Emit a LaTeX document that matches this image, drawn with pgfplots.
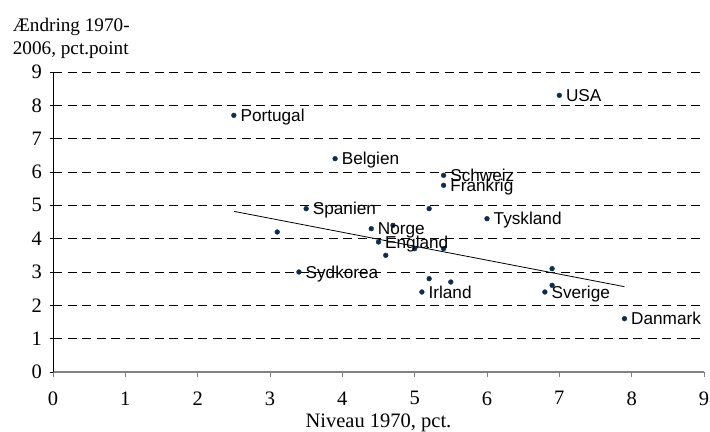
\documentclass[border=0pt]{standalone}
\usepackage{fontspec}
\setmainfont{Liberation Serif}
\setsansfont{Liberation Sans}
\usepackage{pgfplots}
\pgfplotsset{compat=1.18}
\definecolor{pt}{HTML}{0B2E50}
\definecolor{axgray}{HTML}{808080}
\begin{document}
\begin{tikzpicture}
\begin{axis}[
  scale only axis, width=651bp, height=300bp,
  xmin=0, xmax=9, ymin=0, ymax=9,
  xtick={0,1,...,9}, ytick={0,1,...,9},
  axis x line*=bottom, axis y line*=left,
  x axis line style={axgray, line width=1.6bp},
  y axis line style={black, line width=0.9bp},
  xtick style={axgray, line width=1bp},
  ytick style={black, line width=0.9bp},
  xtick align=outside, ytick align=center,
  major tick length=5bp,
  ymajorgrids,
  grid style={black, line width=0.7bp, dash pattern=on 9bp off 5.5bp},
  font=\fontsize{20.5bp}{24bp}\selectfont,
  /pgf/number format/assume math mode=true,
  ticklabel style={font=\fontsize{20.5bp}{24bp}\selectfont},
  xticklabel style={yshift=-11bp},
  yticklabel style={xshift=-5bp},
  xlabel={Niveau 1970, pct.},
  ylabel={Ændring 1970-\\2006, pct.point},
  every axis x label/.style={at={(axis description cs:0.5,0)}, anchor=base, yshift=-55bp},
  every axis y label/.style={at={(axis description cs:0,1)}, anchor=south west, align=left, inner sep=0pt, xshift=-40.3bp, yshift=13.5bp, font=\fontsize{19.2bp}{23bp}\selectfont},
  clip=false,
]
\addplot[black, line width=0.8bp] coordinates {(2.5,4.82) (7.9,2.56)};
\addplot[only marks, mark=*, mark size=2.4bp, mark options={fill=pt, draw=pt}] coordinates {
 (3.1,4.2) (4.7,4.4) (4.6,3.5) (5.0,3.7) (5.4,3.7) (5.2,4.9) (5.2,2.8) (5.5,2.7) (6.9,3.1) (6.9,2.6)
};
\addplot[only marks, mark=*, mark size=2.4bp, mark options={fill=pt, draw=pt},
  nodes near coords, point meta=explicit symbolic,
  nodes near coords style={anchor=base west, inner sep=0pt, xshift=6.5bp, yshift=-6.1bp, font=\sffamily\fontsize{17.2bp}{20bp}\selectfont, text=black}]
 table[meta=label] {
x y label
2.5 7.7 Portugal
3.9 6.4 Belgien
7.0 8.3 USA
5.4 5.9 Schweiz
5.4 5.6 Frankrig
3.5 4.9 Spanien
6.0 4.6 Tyskland
4.4 4.3 Norge
4.5 3.9 England
3.4 3.0 Sydkorea
5.1 2.4 Irland
6.8 2.4 Sverige
7.9 1.6 Danmark
};
\end{axis}
\pgfresetboundingbox
\useasboundingbox (-53bp,-60bp) rectangle (657bp,372bp);
\end{tikzpicture}
\end{document}
